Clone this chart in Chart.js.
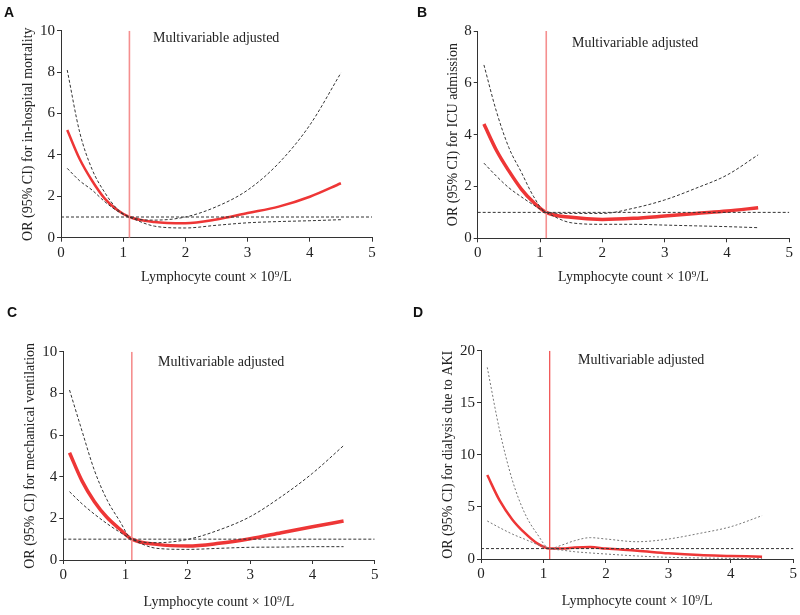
<!DOCTYPE html>
<html>
<head>
<meta charset="utf-8">
<script src="https://cdn.jsdelivr.net/npm/chart.js@4.4.1/dist/chart.umd.min.js"></script>
<style>
  html, body { margin:0; padding:0; background:#fff; }
  #wrap { position:relative; width:800px; height:615px; overflow:hidden; background:#fff; }
  canvas { position:absolute; }
  .letter { position:absolute; font-family:"Liberation Sans", Arial, sans-serif; font-weight:bold; font-size:14px; line-height:14px; color:#111; }
  .note { position:absolute; font-family:"Liberation Serif", "Times New Roman", serif; font-size:14px; line-height:14px; color:#222; white-space:nowrap; }
</style>
</head>
<body>
<div id="wrap">
  <canvas id="cA" width="400" height="307" style="left:0;top:0;width:400px;height:307px"></canvas>
  <canvas id="cB" width="400" height="307" style="left:400px;top:0;width:400px;height:307px"></canvas>
  <canvas id="cC" width="400" height="308" style="left:0;top:307px;width:400px;height:308px"></canvas>
  <canvas id="cD" width="400" height="308" style="left:400px;top:307px;width:400px;height:308px"></canvas>
  <div class="letter" style="left:4px;top:5px">A</div>
  <div class="letter" style="left:417px;top:5px">B</div>
  <div class="letter" style="left:7px;top:305px">C</div>
  <div class="letter" style="left:413px;top:305px">D</div>
  <div class="note" style="left:153px;top:31px">Multivariable adjusted</div>
  <div class="note" style="left:572px;top:36px">Multivariable adjusted</div>
  <div class="note" style="left:158px;top:355px">Multivariable adjusted</div>
  <div class="note" style="left:578px;top:353px">Multivariable adjusted</div>
</div>
<script>
// ---------- data ----------
const xTicks = [0, 1, 2, 3, 4, 5];
const xsABC = [0.1, 0.3, 0.5, 0.7, 0.9, 1.1, 1.5, 2, 2.5, 3, 3.5, 4, 4.5];
const xsD   = [0.1, 0.3, 0.5, 0.7, 0.9, 1.1, 1.3, 1.5, 1.75, 2, 2.5, 3, 3.5, 4, 4.5];
const refX = 1.1;      // vertical reference (lymphocyte count)
const refOR = 1;       // horizontal reference OR

const yTicksA = [0, 2, 4, 6, 8, 10];
const orA    = [5.2, 3.8, 2.75, 1.9, 1.35, 1.0, 0.76, 0.7, 0.88, 1.19, 1.5, 1.98, 2.63];
const upA    = [8.1, 5.1, 3.3, 2.2, 1.4, 1.0, 0.85, 1.0, 1.5, 2.3, 3.6, 5.44, 7.96];
const loA    = [3.35, 2.75, 2.3, 1.75, 1.3, 1.0, 0.56, 0.47, 0.6, 0.72, 0.78, 0.82, 0.87];

const yTicksB = [0, 2, 4, 6, 8];
const orB    = [4.41, 3.4, 2.6, 1.9, 1.38, 1.0, 0.81, 0.73, 0.77, 0.86, 0.96, 1.05, 1.18];
const upB    = [6.69, 4.9, 3.5, 2.55, 1.6, 1.0, 0.96, 0.96, 1.16, 1.48, 1.93, 2.44, 3.22];
const loB    = [2.9, 2.4, 1.95, 1.6, 1.28, 1.0, 0.6, 0.54, 0.54, 0.51, 0.48, 0.45, 0.41];

const yTicksC = [0, 2, 4, 6, 8, 10];
const orC    = [5.15, 3.8, 2.8, 2.05, 1.5, 1.0, 0.75, 0.67, 0.8, 1.02, 1.31, 1.6, 1.87];
const upC    = [8.16, 6.2, 4.3, 2.9, 1.9, 1.0, 0.83, 0.99, 1.44, 2.08, 3.04, 4.16, 5.49];
const loC    = [3.28, 2.7, 2.2, 1.75, 1.35, 1.0, 0.56, 0.51, 0.56, 0.61, 0.62, 0.64, 0.64];

const yTicksD = [0, 5, 10, 15, 20];
const orD    = [8.06, 5.6, 3.8, 2.5, 1.5, 1.0, 1.0, 1.1, 1.15, 1.0, 0.8, 0.55, 0.38, 0.3, 0.22];
const upD    = [18.4, 12.3, 7.6, 4.4, 2.4, 1.0, 1.35, 1.76, 2.05, 1.92, 1.66, 1.92, 2.46, 3.1, 4.16];
const loD    = [3.65, 3.0, 2.4, 1.9, 1.4, 1.0, 0.85, 0.7, 0.58, 0.48, 0.29, 0.16, 0.1, 0.06, 0.03];

const xTitle = 'Lymphocyte count × 10\u2079/L';

// ---------- helpers ----------
const SERIF = '"Liberation Serif", "Times New Roman", serif';
function pts(xs, ys) { return xs.map((x, i) => ({ x: x, y: ys[i] })); }

function makePanel(id, o) {
  const ymax = o.yTicks[o.yTicks.length - 1];
  const curve = (data, color, width, dash) => ({
    data, showLine: true, borderColor: color, borderWidth: width, borderDash: dash || [],
    pointRadius: 0, cubicInterpolationMode: 'monotone', fill: false
  });
  new Chart(document.getElementById(id), {
    type: 'scatter',
    data: {
      datasets: [
        curve([{ x: xTicks[0], y: refOR }, { x: xTicks[xTicks.length - 1], y: refOR }], '#333', 1, [3, 2]),
        curve(pts(o.xs, o.up), o.ciColor, 1, o.ciDash),
        curve(pts(o.xs, o.lo), o.ciColor, 1, o.ciDash),
        curve([{ x: refX, y: 0 }, { x: refX, y: ymax }], o.vColor, o.vW),
        curve(pts(o.xs, o.or), '#ee3636', o.redW)
      ]
    },
    options: {
      responsive: false, animation: false, maintainAspectRatio: false,
      layout: { padding: o.pad },
      plugins: { legend: { display: false }, tooltip: { enabled: false } },
      scales: {
        x: {
          type: 'linear', min: xTicks[0], max: xTicks[xTicks.length - 1],
          afterBuildTicks: s => { s.ticks = xTicks.map(v => ({ value: v })); },
          afterFit: s => { s.height = o.xH; },
          ticks: { color: '#222', font: { family: SERIF, size: 15 }, padding: 2 },
          grid: { drawOnChartArea: false, drawTicks: true, tickLength: 4, color: '#333' },
          border: { color: '#333', width: 1 },
          title: { display: true, text: xTitle, color: '#222', font: { family: SERIF, size: 14 }, padding: 4 }
        },
        y: {
          type: 'linear', min: o.yTicks[0], max: ymax,
          afterBuildTicks: s => { s.ticks = o.yTicks.map(v => ({ value: v })); },
          afterFit: s => { s.width = o.yW; },
          ticks: { color: '#222', font: { family: SERIF, size: 15 }, padding: 2 },
          grid: { drawOnChartArea: false, drawTicks: true, tickLength: 4, color: '#333' },
          border: { color: '#333', width: 1 },
          title: { display: true, text: o.yTitle, color: '#222', font: { family: SERIF, size: 14 }, padding: 4 }
        }
      }
    }
  });
}

makePanel('cA', { xs: xsABC, or: orA, up: upA, lo: loA, yTicks: yTicksA,
  yTitle: 'OR (95% CI) for in-hospital mortality', redW: 2.5, ciColor: '#333', ciDash: [3, 2],
  vColor: '#f58f8f', vW: 1.6,
  pad: { left: 16, right: 28, top: 30.7, bottom: 17.6 }, yW: 45, xH: 51.7 });
makePanel('cB', { xs: xsABC, or: orB, up: upB, lo: loB, yTicks: yTicksB,
  yTitle: 'OR (95% CI) for ICU admission', redW: 3.5, ciColor: '#333', ciDash: [3, 2],
  vColor: '#f58f8f', vW: 1.6,
  pad: { left: 40.6, right: 10.7, top: 31, bottom: 17.6 }, yW: 37.1, xH: 51.1 });
makePanel('cC', { xs: xsABC, or: orC, up: upC, lo: loC, yTicks: yTicksC,
  yTitle: 'OR (95% CI) for mechanical ventilation', redW: 3.5, ciColor: '#333', ciDash: [3, 2],
  vColor: '#f58f8f', vW: 1.6,
  pad: { left: 18, right: 25.3, top: 44.7, bottom: 0.6 }, yW: 45.3, xH: 54.4 });
makePanel('cD', { xs: xsD, or: orD, up: upD, lo: loD, yTicks: yTicksD,
  yTitle: 'OR (95% CI) for dialysis due to AKI', redW: 2.5, ciColor: '#777', ciDash: [2, 2],
  vColor: '#f04848', vW: 1.2,
  pad: { left: 35.6, right: 6.7, top: 43.7, bottom: 1.6 }, yW: 45.4, xH: 54.4 });
</script>
</body>
</html>
